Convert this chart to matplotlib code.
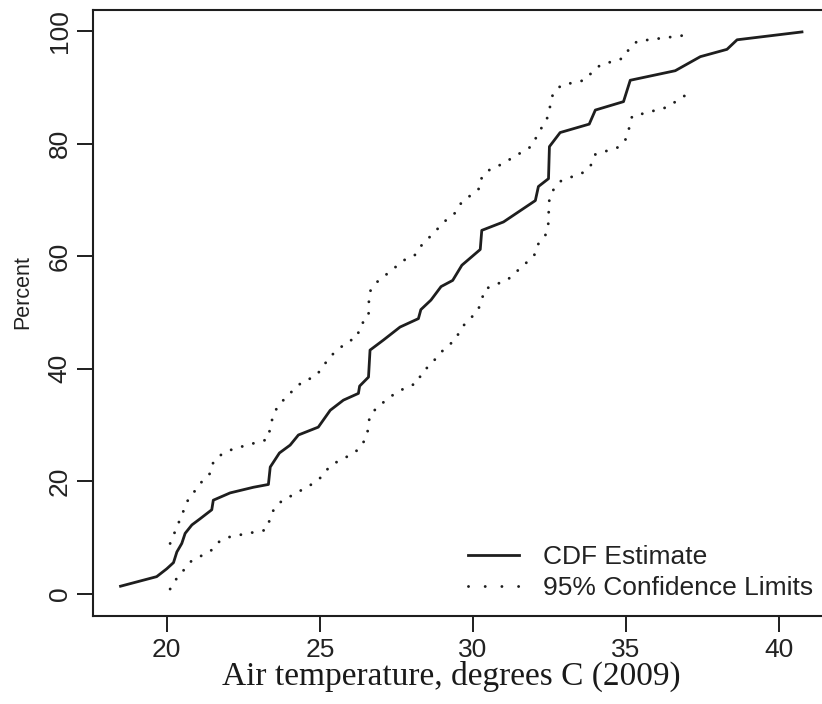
import matplotlib
matplotlib.use("Agg")
import matplotlib.pyplot as plt
from matplotlib.lines import Line2D

# CDF estimate (temperature, percent)
cdf_temp = [18.49, 19.67, 20.0, 20.22, 20.33, 20.49, 20.6, 20.82, 21.09, 21.47, 21.52, 22.07,
            22.83, 23.32, 23.38, 23.68, 24.03, 24.3, 24.95, 25.34, 25.77, 26.26, 26.3, 26.59,
            26.64, 27.08, 27.62, 28.22, 28.3, 28.63, 28.96, 29.34, 29.64, 30.24, 30.29, 31.0,
            32.04, 32.14, 32.47, 32.5, 32.85, 33.8, 34.0, 34.92, 35.14, 36.61, 37.43, 38.3,
            38.63, 40.75]
cdf_pct = [1.3, 3.0, 4.4, 5.5, 7.4, 8.9, 10.7, 12.2, 13.3, 14.9, 16.6, 17.9,
           18.9, 19.4, 22.5, 25.0, 26.4, 28.2, 29.6, 32.6, 34.4, 35.6, 36.9, 38.5,
           43.3, 45.1, 47.4, 48.9, 50.5, 52.2, 54.6, 55.7, 58.4, 61.2, 64.6, 66.1,
           69.9, 72.4, 73.8, 79.5, 82.0, 83.5, 86.0, 87.5, 91.3, 93.0, 95.5, 96.8,
           98.5, 99.9]

# Upper 95% confidence limit
upper_temp = [20.11, 20.69, 21.16, 21.44, 21.52, 21.8, 22.16, 23.29, 23.38, 23.46, 23.63,
              24.17, 24.46, 24.82, 25.09, 25.28, 25.88, 26.23, 26.3, 26.59, 26.61, 26.82,
              27.75, 28.09, 28.3, 29.12, 29.42, 29.62, 30.24, 30.29, 30.57, 30.92, 31.93,
              32.09, 32.45, 32.53, 32.61, 32.88, 33.64, 33.89, 34.16, 34.9, 35.12, 35.36,
              35.74, 36.92]
upper_pct = [8.9, 16.6, 20.0, 21.5, 23.4, 24.8, 25.7, 27.4, 29.4, 31.4, 33.4,
             36.4, 37.8, 38.5, 40.1, 41.9, 44.7, 45.6, 47.6, 49.2, 53.5, 55.2,
             59.3, 60.1, 61.8, 66.4, 67.7, 69.5, 72.2, 74.1, 75.5, 76.3, 79.6,
             81.4, 84.8, 86.9, 88.8, 90.4, 91.3, 92.7, 94.0, 95.2, 97.0, 98.2,
             98.5, 99.3]

# Lower 95% confidence limit
lower_temp = [20.11, 20.3, 20.79, 21.16, 21.49, 21.71, 22.07, 23.24, 23.35, 23.49, 23.76,
              24.11, 24.79, 25.09, 25.3, 25.64, 25.99, 26.28, 26.48, 26.59, 26.62, 26.86,
              27.48, 27.84, 28.2, 28.33, 28.63, 28.88, 29.15, 29.44, 29.61, 30.16, 30.29,
              30.38, 30.75, 31.11, 32.0, 32.11, 32.36, 32.46, 32.49, 32.63, 32.88, 33.61,
              33.87, 34.0, 34.76, 34.99, 35.11, 35.2, 35.58, 36.34, 36.99]
lower_pct = [0.8, 2.5, 5.7, 6.8, 7.8, 9.2, 10.1, 11.3, 12.9, 14.9, 16.5,
             17.5, 19.6, 20.9, 22.5, 23.7, 24.6, 25.7, 27.4, 29.4, 31.4, 33.1,
             35.7, 36.7, 37.5, 39.4, 40.7, 42.5, 43.9, 45.2, 47.2, 50.3, 52.2,
             54.1, 55.0, 55.7, 60.1, 62.0, 63.6, 65.5, 69.8, 71.8, 73.4, 74.9,
             76.3, 78.1, 79.4, 80.8, 82.9, 84.9, 85.4, 86.5, 88.8]

x_ticks = [20, 25, 30, 35, 40]
y_ticks = [0, 20, 40, 60, 80, 100]
labels = ["CDF Estimate", "95% Confidence Limits"]

W, H = 822, 704
fig = plt.figure(figsize=(W / 100, H / 100), dpi=100)
ax = fig.add_axes([93.3 / W, 1 - 616 / H, (828 - 93.3) / W, (616 - 10) / H])

col = "#1e1e1e"
dot_lw = 2.1
dot_style = (0, (0.01, 8.3 / dot_lw))
ax.plot(cdf_temp, cdf_pct, color=col, lw=2.0, solid_joinstyle="round")
ax.plot(upper_temp, upper_pct, color=col, lw=dot_lw, linestyle=dot_style, dash_capstyle="round")
ax.plot(lower_temp, lower_pct, color=col, lw=dot_lw, linestyle=dot_style, dash_capstyle="round")

ax.set_xlim(17.6, 41.6)
ax.set_ylim(-4.0, 103.8)
ax.set_xticks(x_ticks)
ax.set_yticks(y_ticks)

sans = ["Liberation Sans", "DejaVu Sans"]
ax.set_xticklabels([str(v) for v in x_ticks], fontsize=19, family=sans, color="#222222")
ax.set_yticklabels([str(v) for v in y_ticks], fontsize=19, family=sans, color="#222222",
                   rotation=90, va="center")
ax.tick_params(axis="both", direction="out", length=11.5, width=1.4, color=col)
ax.tick_params(axis="x", pad=4)
ax.tick_params(axis="y", pad=4)
for s in ax.spines.values():
    s.set_linewidth(1.5)
    s.set_color(col)

fig.text(23 / W, 1 - 292 / H, "Percent", rotation=90, ha="center", va="center",
         fontsize=15.5, family=sans, color="#222222")
fig.text(451 / W, 1 - 685 / H, "Air temperature, degrees C (2009)", ha="center",
         va="baseline", fontsize=24, family=["Liberation Serif", "DejaVu Serif"], color="#1a1a1a")

handles = [Line2D([], [], color=col, lw=2.0),
           Line2D([], [], color=col, lw=dot_lw, linestyle=(0, (0.01, 12.0 / dot_lw)),
                  dash_capstyle="round")]
leg = ax.legend(handles, labels, loc="lower left", bbox_to_anchor=(468 / W, 1 - 600 / H),
                bbox_transform=fig.transFigure, frameon=False,
                prop={"family": sans, "size": 19}, handlelength=1.95, handletextpad=0.9,
                labelspacing=0.25, borderpad=0, borderaxespad=0)
for t in leg.get_texts():
    t.set_color("#222222")

fig.savefig("out.png", dpi=100)
